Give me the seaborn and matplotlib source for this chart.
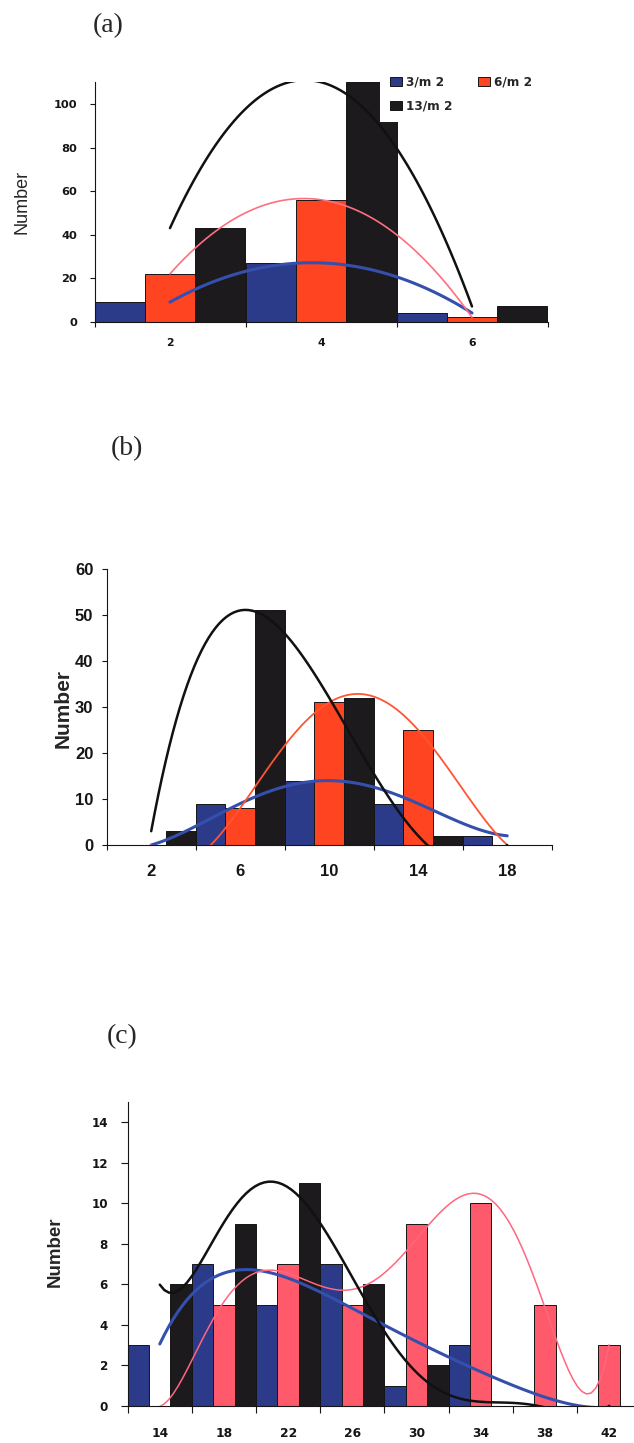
import numpy as np
import pandas as pd
import matplotlib
matplotlib.use("Agg")
import matplotlib.pyplot as plt
import seaborn as sns
from matplotlib.patches import Patch

# ---------------- data ----------------
series_names = ["3/m 2", "6/m 2", "13/m 2"]

a_sizes = ["2", "4", "6"]
a_d3 = [9, 27, 4]
a_d6 = [22, 56, 2]
a_d13 = [43, 110, 7]

b_sizes = ["2", "6", "10", "14", "18"]
b_d3 = [0, 9, 14, 9, 2]
b_d6 = [0, 8, 31, 25, 0]
b_d13 = [3, 51, 32, 2, 0]

c_sizes = ["14", "18", "22", "26", "30", "34", "38", "42"]
c_d3 = [3, 7, 5, 7, 1, 3, 0, 0]
c_d6 = [0, 5, 7, 5, 9, 10, 5, 3]
c_d13 = [6, 9, 11, 6, 2, 0, 0, 0]

# polynomial trend-line orders (Excel style)
a_orders = [2, 2, 2]
b_orders = [4, 4, 4]
c_orders = [6, 6, 6]

W, H = 634, 1443
sns.set_style("ticks")
plt.rcParams["font.family"] = ["Liberation Sans", "DejaVu Sans"]
fig = plt.figure(figsize=(W / 100, H / 100), dpi=100)


def px_axes(left, top, right, bottom):
    return fig.add_axes([left / W, 1 - bottom / H, (right - left) / W, (bottom - top) / H])


def panel(ax, sizes, d3, d6, d13, bar_cols, line_cols, line_lws, orders,
          ylim, yticks, tickfont, ysize, xsize, ypad, xpad, ticklen):
    df = pd.DataFrame({
        "size": sizes * 3,
        "density": [s for s in series_names for _ in sizes],
        "count": list(d3) + list(d6) + list(d13),
    })
    sns.barplot(data=df, x="size", y="count", hue="density", order=sizes,
                hue_order=series_names, palette=dict(zip(series_names, bar_cols)),
                width=1.0, saturation=1, edgecolor="#151515", linewidth=0.7,
                errorbar=None, legend=False, ax=ax)
    xs = np.arange(len(sizes))
    for vals, col, lw, k in zip([d3, d6, d13], line_cols, line_lws, orders):
        sns.regplot(x=xs, y=np.asarray(vals, float), order=k, ci=None, scatter=False,
                    truncate=True, line_kws=dict(color=col, lw=lw, zorder=3), ax=ax)
    n = len(sizes)
    ax.set_xlim(-0.5, n - 0.5)
    ax.set_ylim(*ylim)
    ax.set_xlabel("")
    ax.set_ylabel("")
    ax.set_yticks(yticks, labels=[str(t) for t in yticks], fontsize=ysize,
                  fontweight="bold", family=tickfont)
    ax.set_xticks(np.arange(n + 1) - 0.5, labels=[""] * (n + 1))
    ax.set_xticks(xs, labels=sizes, minor=True, fontsize=xsize, fontweight="bold",
                  family=tickfont)
    ax.tick_params(axis="y", length=ticklen, width=0.8, pad=ypad, colors="#151515")
    ax.tick_params(axis="x", which="major", length=ticklen, width=0.8, colors="#151515")
    ax.tick_params(axis="x", which="minor", length=0, pad=xpad, colors="#151515")
    for s in ["top", "right"]:
        ax.spines[s].set_visible(False)
    for s in ["left", "bottom"]:
        ax.spines[s].set_linewidth(0.8)
        ax.spines[s].set_color("#151515")


blue, orange, black, pink = "#2c3a8a", "#ff4422", "#1d1a1d", "#ff5a6c"
lblue = "#3550ac"

# ---- (a)
ax_a = px_axes(94.5, 82.2, 547.5, 321.7)
panel(ax_a, a_sizes, a_d3, a_d6, a_d13, [blue, orange, black],
      [lblue, "#ff6f80", "#111111"], [2.2, 1.2, 1.8], a_orders,
      (0, 110), list(range(0, 101, 20)), "DejaVu Sans", 8.2, 7.8, 9.0, 12.0, 3.6)
handles = {nm: Patch(facecolor=c, edgecolor="#151515", linewidth=0.7)
           for nm, c in zip(series_names, [blue, orange, black])}
order = ["3/m 2", "13/m 2", "6/m 2"]
ax_a.legend([handles[o] for o in order], order, ncol=2, loc="upper left",
            bbox_to_anchor=(380 / W, 1 - 66 / H), bbox_transform=fig.transFigure,
            frameon=True, facecolor="white", edgecolor="none", framealpha=1,
            fancybox=False, borderpad=0.8, borderaxespad=0, handlelength=1.05,
            handleheight=0.7, handletextpad=0.3, columnspacing=2.1, labelspacing=0.9,
            prop={"family": "DejaVu Sans", "weight": "bold", "size": 8.7})

# ---- (b)
ax_b = px_axes(106.7, 569, 551.7, 845)
panel(ax_b, b_sizes, b_d3, b_d6, b_d13, [blue, orange, black],
      [lblue, "#ff5530", "#111111"], [2.2, 1.3, 1.8], b_orders,
      (0, 60), list(range(0, 61, 10)), "Liberation Sans", 12, 12, 6.0, 13.9, 3.6)

# ---- (c)
ax_c = px_axes(127.7, 1102.2, 641.3, 1406)
panel(ax_c, c_sizes, c_d3, c_d6, c_d13, [blue, pink, black],
      [lblue, "#ff6680", "#111111"], [2.2, 1.1, 1.8], c_orders,
      (0, 15), list(range(0, 15, 2)), "DejaVu Sans", 8.6, 8.8, 9.5, 15.0, 4.8)

# ---- panel letters and axis titles
for txt, x, y in [("(a)", 108, 26), ("(b)", 127, 449), ("(c)", 122, 1037)]:
    fig.text(x / W, 1 - y / H, txt, family="Liberation Serif", size=20,
             ha="center", va="center")
fig.text(22 / W, 1 - 202 / H, "Number", rotation=90, ha="center", va="center",
         family="Liberation Sans", size=13)
fig.text(63 / W, 1 - 708 / H, "Number", rotation=90, ha="center", va="center",
         family="Liberation Sans", size=15, weight="bold")
fig.text(55 / W, 1 - 1252 / H, "Number", rotation=90, ha="center", va="center",
         family="Liberation Sans", size=13.5, weight="bold")

fig.savefig("out.png", dpi=100)
